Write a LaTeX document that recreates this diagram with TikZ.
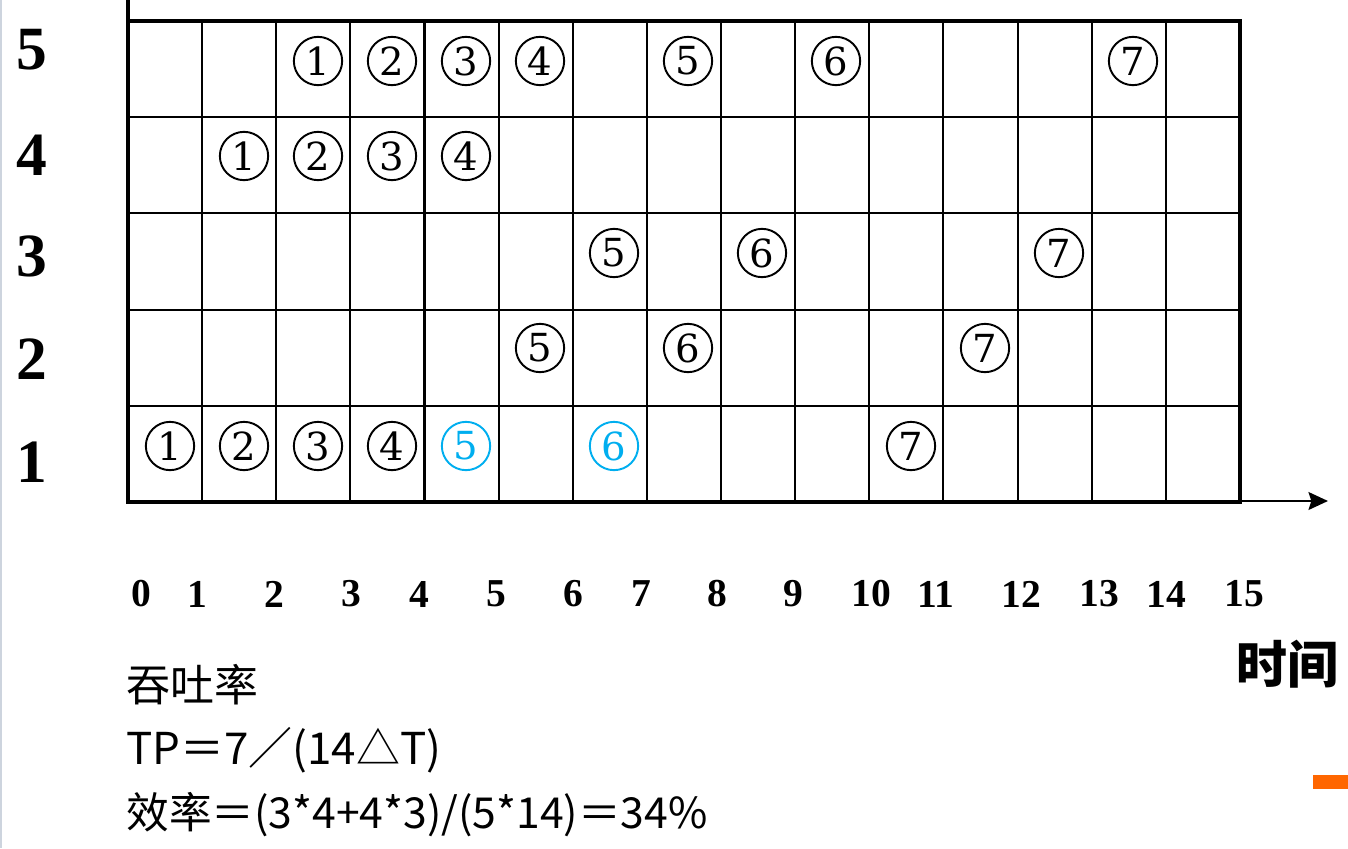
\documentclass[tikz,border=0pt]{standalone}
\usepackage{fontspec}
\usetikzlibrary{arrows.meta}
\setmainfont{Liberation Serif}
\newfontfamily\cjk{Noto Sans CJK SC}
\newfontfamily\stagefont{DejaVu Serif}
\definecolor{stageblue}{RGB}{0,174,239}
\definecolor{markorange}{RGB}{255,102,0}
\definecolor{edgegray}{RGB}{205,212,222}
\begin{document}
\begin{tikzpicture}[x=0.02cm,y=-0.02cm]
      \useasboundingbox (0,0) rectangle (1348,848);
      \draw[edgegray,line width=1.5pt] (1,0) -- (1,848);

      % space-time grid
      \foreach \i in {1,...,14}
        \draw[line width=1.2pt] ({128+\i*74.13},21) -- ({128+\i*74.13},502);
      \foreach \j in {1,...,4}
        \draw[line width=1.2pt] (128,{21+\j*96.2}) -- (1240,{21+\j*96.2});
      \draw[line width=2.4pt] (128,0) -- (128,502) -- (1240,502) -- (1240,21) -- (126.8,21);

      \coordinate (xs) at (1218,501);
      \coordinate (xe) at (1328,501);
      \draw[line width=1.7pt,-{Stealth[length=11pt,width=10pt,inset=1.5pt]}] (xs) -- (xe);

      \begin{scope}[every node/.style={font=\bfseries\fontsize{35}{35}\selectfont}]
        \node (y5) at (32,50)  {5};
        \node (y4) at (32,155) {4};
        \node (y3) at (32,256) {3};
        \node (y2) at (32,359) {2};
        \node (y1) at (32,462) {1};
      \end{scope}

      \begin{scope}[every node/.style={font=\bfseries\fontsize{22.5}{22.5}\selectfont}]
        \node (t0)  at (141,594)  {0};
        \node (t1)  at (197,594)  {1};
        \node (t2)  at (274,594)  {2};
        \node (t3)  at (351,594)  {3};
        \node (t4)  at (419,594)  {4};
        \node (t5)  at (496,594)  {5};
        \node (t6)  at (573,594)  {6};
        \node (t7)  at (641,594)  {7};
        \node (t8)  at (717,594)  {8};
        \node (t9)  at (793,594)  {9};
        \node (t10) at (871,594)  {10};
        \node (t11) at (936,594)  {11};
        \node (t12) at (1021,594) {12};
        \node (t13) at (1099,594) {13};
        \node (t14) at (1166,594) {14};
        \node (t15) at (1244,594) {15};
      \end{scope}

      \begin{scope}[every node/.style={circle,draw,line width=1.1pt,minimum size=27.5pt,inner sep=0pt,
          font=\stagefont\fontsize{22}{22}\selectfont}]
        % stage 5
        \node (s51) at (318,61)  {1};
        \node (s52) at (392,61)  {2};
        \node (s53) at (466,61)  {3};
        \node (s54) at (540,61)  {4};
        \node (s55) at (688,61)  {5};
        \node (s56) at (836,61)  {6};
        \node (s57) at (1133,61) {7};
        % stage 4
        \node (s41) at (244,156) {1};
        \node (s42) at (318,156) {2};
        \node (s43) at (392,156) {3};
        \node (s44) at (466,156) {4};
        % stage 3
        \node (s35) at (614,253)  {5};
        \node (s36) at (762,253)  {6};
        \node (s37) at (1059,253) {7};
        % stage 2
        \node (s25) at (540,348) {5};
        \node (s26) at (688,348) {6};
        \node (s27) at (985,348) {7};
        % stage 1
        \node (s11) at (170,446) {1};
        \node (s12) at (244,446) {2};
        \node (s13) at (318,446) {3};
        \node (s14) at (392,446) {4};
        \node[stageblue] (s15) at (466,446) {5};
        \node[stageblue] (s16) at (614,446) {6};
        \node (s17) at (911,446) {7};
      \end{scope}

      \node[font=\cjk\bfseries\fontsize{29}{29}\selectfont] (axis) at (1287,664) {时间};

      \begin{scope}[every node/.style={anchor=west,inner sep=0pt,font=\cjk\fontsize{25}{25}\selectfont}]
        \node (tput) at (126,685) {吞吐率};
        \node (tp)   at (126,750) {TP＝7／(14△T)};
        \node[font=\cjk\fontsize{24.3}{24.3}\selectfont] (eff) at (126,815) {效率＝(3*4+4*3)/(5*14)＝34\%};
      \end{scope}

      \fill[markorange] (1313,775) rectangle (1348,789);

    \end{tikzpicture}
\end{document}
